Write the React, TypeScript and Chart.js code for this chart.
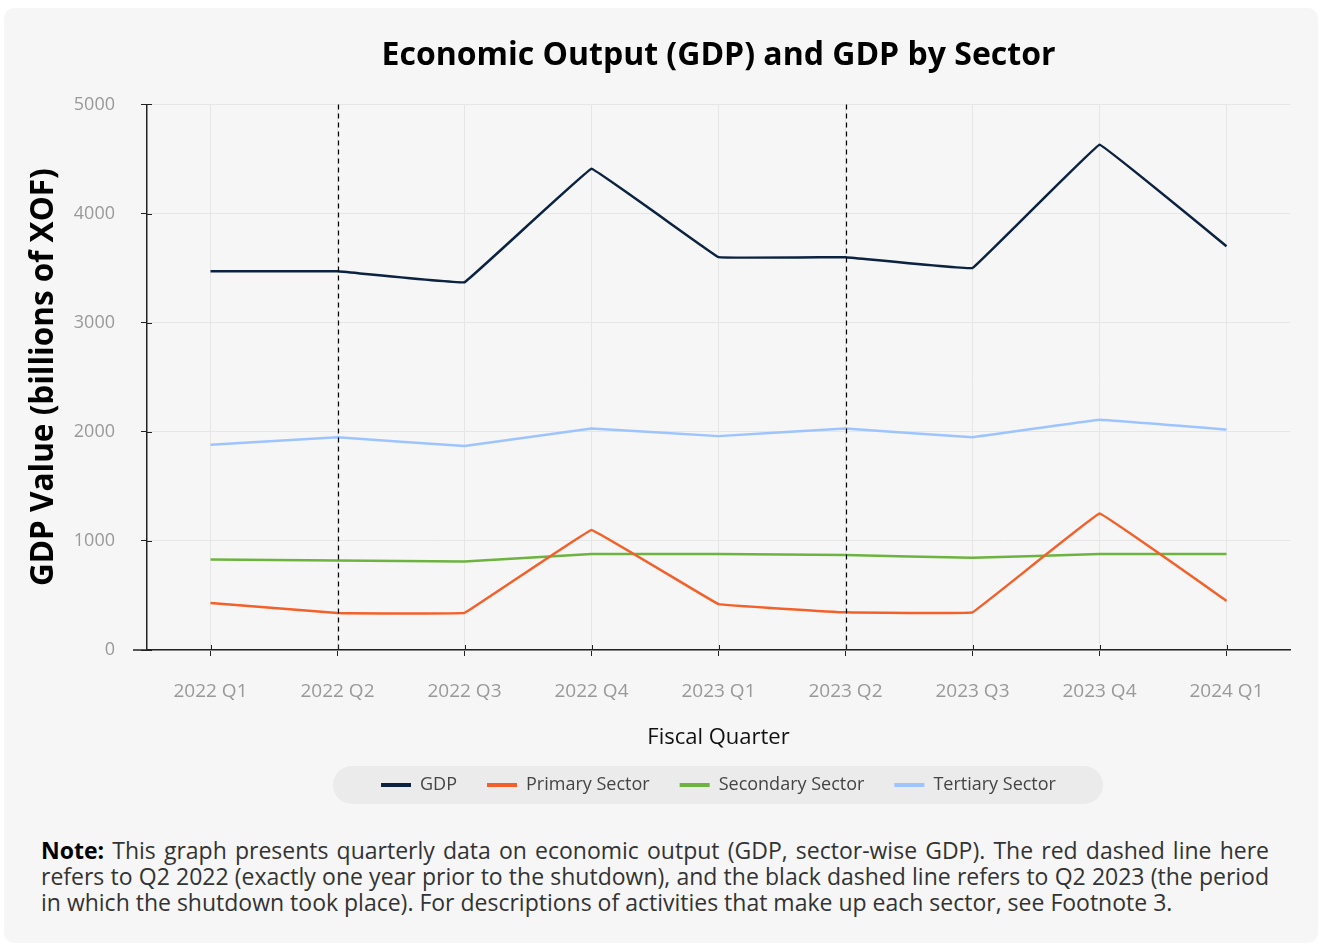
import React, { useEffect, useRef } from "react";
import { Chart, registerables } from "chart.js";

Chart.register(...registerables);

const quarters = ["2022 Q1", "2022 Q2", "2022 Q3", "2022 Q4", "2023 Q1", "2023 Q2", "2023 Q3", "2023 Q4", "2024 Q1"];
const gdp = [3470, 3470, 3370, 4410, 3600, 3600, 3500, 4630, 3700];
const primarySector = [430, 340, 340, 1100, 420, 345, 345, 1250, 450];
const secondarySector = [830, 820, 810, 880, 880, 870, 845, 880, 880];
const tertiarySector = [1880, 1950, 1870, 2030, 1960, 2030, 1950, 2110, 2020];
const markerQuarters = ["2022 Q2", "2023 Q2"];
const yTicks = [0, 1000, 2000, 3000, 4000, 5000];

const FONT = "'Open Sans', 'Noto Sans', sans-serif";

const extrasPlugin = {
  id: "extras",
  beforeDraw(chart: any) {
    const lg = chart.legend;
    if (lg && lg.legendHitBoxes && lg.legendHitBoxes.length) {
      const hb = lg.legendHitBoxes;
      const l = hb[0].left - 48;
      const r = hb[hb.length - 1].left + hb[hb.length - 1].width + 47;
      const cy = hb[0].top + hb[0].height / 2;
      const h = 38;
      const ctx = chart.ctx;
      ctx.save();
      ctx.fillStyle = "#ebebeb";
      ctx.beginPath();
      (ctx as any).roundRect(l, cy - h / 2, r - l, h, h / 2);
      ctx.fill();
      ctx.restore();
    }
  },
  afterDatasetsDraw(chart: any) {
    const { ctx, chartArea, scales } = chart;
    ctx.save();
    ctx.strokeStyle = "#000";
    ctx.lineWidth = 1.2;
    ctx.setLineDash([5, 4]);
    markerQuarters.forEach((q) => {
      const x = Math.round(scales.x.getPixelForValue(quarters.indexOf(q))) + 0.5;
      ctx.beginPath();
      ctx.moveTo(x, chartArea.top);
      ctx.lineTo(x, chartArea.bottom);
      ctx.stroke();
    });
    ctx.setLineDash([]);
    ctx.strokeStyle = "#222";
    ctx.lineWidth = 1.5;
    ctx.beginPath();
    ctx.moveTo(chartArea.left - 14, chartArea.bottom);
    ctx.lineTo(chartArea.left, chartArea.bottom);
    ctx.stroke();
    ctx.lineWidth = 1;
    quarters.forEach((_, i) => {
      const x = Math.round(scales.x.getPixelForValue(i)) + 0.5;
      ctx.beginPath();
      ctx.moveTo(x, chartArea.bottom);
      ctx.lineTo(x, chartArea.bottom - 5);
      ctx.stroke();
    });
    yTicks.forEach((v) => {
      const y = Math.round(scales.y.getPixelForValue(v)) + 0.5;
      ctx.beginPath();
      ctx.moveTo(chartArea.left, y);
      ctx.lineTo(chartArea.left + 5, y);
      ctx.stroke();
    });
    ctx.restore();
  },
};

export default function App() {
  const ref = useRef<HTMLCanvasElement | null>(null);

  useEffect(() => {
    if (!ref.current) return;
    const mk = (label: string, data: number[], color: string) => ({
      label,
      data,
      borderColor: color,
      backgroundColor: color,
      borderWidth: 2.5,
      pointRadius: 0,
      pointHoverRadius: 0,
      tension: 0.03,
      fill: false,
      borderJoinStyle: "round" as const,
    });
    const chart = new Chart(ref.current, {
      type: "line",
      data: {
        labels: quarters,
        datasets: [
          mk("GDP", gdp, "#0b2240"),
          mk("Primary Sector", primarySector, "#f4602a"),
          mk("Secondary Sector", secondarySector, "#6db33f"),
          mk("Tertiary Sector", tertiarySector, "#9ec4ff"),
        ],
      },
      options: {
        animation: false,
        responsive: false,
        devicePixelRatio: 1,
        layout: { padding: { top: 0, left: 0, right: 28, bottom: 6 } },
        plugins: {
          title: {
            display: true,
            text: "Economic Output (GDP) and GDP by Sector",
            fullSize: false,
            color: "#000",
            font: { family: FONT, size: 32, weight: "bold" },
            padding: { top: 29, bottom: 29 },
          },
          legend: {
            display: true,
            position: "bottom",
            fullSize: false,
            labels: {
              usePointStyle: true,
              pointStyle: "line",
              pointStyleWidth: 30,
              padding: 30,
              color: "#444",
              font: { family: FONT, size: 18 },
              generateLabels(c: any) {
                return c.data.datasets.map((d: any, i: number) => ({
                  text: d.label,
                  strokeStyle: d.borderColor,
                  fillStyle: d.borderColor,
                  lineWidth: 4,
                  pointStyle: "line",
                  hidden: false,
                  datasetIndex: i,
                  fontColor: "#444",
                }));
              },
            },
          },
          tooltip: { enabled: false },
        },
        scales: {
          x: {
            type: "category",
            offset: true,
            afterFit(scale: any) {
              scale.height = 96;
            },
            grid: {
              display: true,
              offset: false,
              color: "#e6e6e6",
              tickColor: "#222",
              tickLength: 6,
              lineWidth: 1,
            },
            border: { display: true, color: "#222", width: 1.5 },
            ticks: {
              color: "#999",
              font: { family: FONT, size: 19 },
              padding: 24,
              maxRotation: 0,
            },
            title: {
              display: true,
              text: "Fiscal Quarter",
              color: "#111",
              font: { family: FONT, size: 22 },
              padding: { top: 20, bottom: -5 },
            },
          },
          y: {
            min: 0,
            max: 5000,
            afterBuildTicks(scale: any) {
              scale.ticks = yTicks.map((v) => ({ value: v }));
            },
            afterFit(scale: any) {
              scale.width = 143;
            },
            grid: {
              display: true,
              color: "#e6e6e6",
              tickColor: "#222",
              tickLength: 6,
              lineWidth: 1,
            },
            border: { display: true, color: "#222", width: 1.5 },
            ticks: {
              color: "#999",
              font: { family: FONT, size: 18 },
              padding: 26,
              callback: (v: any) => String(v),
            },
            title: {
              display: true,
              text: "GDP Value (billions of XOF)",
              color: "#000",
              font: { family: FONT, size: 31.5, weight: "bold" },
              padding: { top: 21, bottom: 0 },
            },
          },
        },
      },
      plugins: [extrasPlugin],
    });
    return () => chart.destroy();
  }, []);

  const lineStyle: React.CSSProperties = { whiteSpace: "nowrap", textAlign: "justify", textAlignLast: "justify" as any };

  return (
    <div
      style={{
        position: "absolute",
        left: 4,
        top: 8,
        width: 1314,
        height: 935,
        background: "#f6f6f6",
        borderRadius: 10,
        overflow: "hidden",
      }}
    >
      <canvas ref={ref} width={1314} height={802} style={{ position: "absolute", left: 0, top: 0, width: 1314, height: 802 }} />
      <div
        style={{
          position: "absolute",
          left: 37,
          top: 829,
          width: 1228,
          fontFamily: FONT,
          fontSize: 23,
          lineHeight: "26px",
          color: "#333",
        }}
      >
        <div style={{ ...lineStyle, whiteSpace: "normal" }}>
          <b style={{ color: "#000" }}>Note:</b> This graph presents quarterly data on economic output (GDP, sector-wise GDP). The red dashed line here
        </div>
        <div style={{ ...lineStyle, whiteSpace: "normal" }}>
          refers to Q2 2022 (exactly one year prior to the shutdown), and the black dashed line refers to Q2 2023 (the period
        </div>
        <div style={{ whiteSpace: "nowrap" }}>
          in which the shutdown took place). For descriptions of activities that make up each sector, see Footnote 3.
        </div>
      </div>
    </div>
  );
}
